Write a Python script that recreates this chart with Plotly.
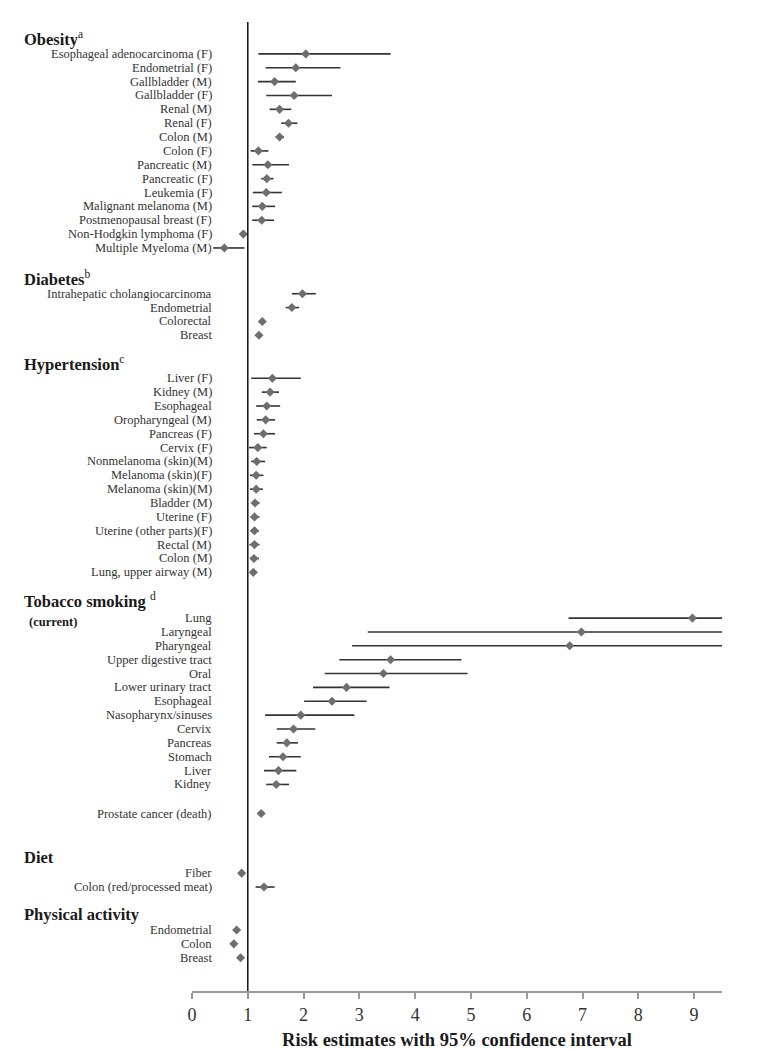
import plotly.graph_objects as go

# ---- Data: risk estimates with lower / upper 95% CI ----
obesity_labels = ["Esophageal adenocarcinoma (F)", "Endometrial (F)", "Gallbladder (M)",
                  "Gallbladder (F)", "Renal (M)", "Renal (F)", "Colon (M)", "Colon (F)",
                  "Pancreatic (M)", "Pancreatic (F)", "Leukemia (F)", "Malignant melanoma (M)",
                  "Postmenopausal breast (F)", "Non-Hodgkin lymphoma (F)", "Multiple Myeloma (M)"]
obesity_est = [2.04, 1.86, 1.48, 1.83, 1.57, 1.73, 1.57, 1.19, 1.36, 1.34, 1.33, 1.26, 1.25, 0.92, 0.58]
obesity_lo = [1.19, 1.32, 1.18, 1.33, 1.39, 1.60, 1.50, 1.05, 1.08, 1.24, 1.09, 1.08, 1.08, 0.92, 0.38]
obesity_hi = [3.56, 2.66, 1.86, 2.51, 1.78, 1.89, 1.65, 1.37, 1.74, 1.46, 1.61, 1.49, 1.47, 0.92, 0.94]

diabetes_labels = ["Intrahepatic cholangiocarcinoma", "Endometrial", "Colorectal", "Breast"]
diabetes_est = [1.98, 1.79, 1.26, 1.20]
diabetes_lo = [1.79, 1.68, 1.26, 1.20]
diabetes_hi = [2.22, 1.92, 1.26, 1.20]

hyper_labels = ["Liver (F)", "Kidney (M)", "Esophageal", "Oropharyngeal (M)", "Pancreas (F)",
                "Cervix (F)", "Nonmelanoma (skin)(M)", "Melanoma (skin)(F)", "Melanoma (skin)(M)",
                "Bladder (M)", "Uterine (F)", "Uterine (other parts)(F)", "Rectal (M)", "Colon (M)",
                "Lung, upper airway (M)"]
hyper_est = [1.44, 1.40, 1.34, 1.32, 1.28, 1.18, 1.16, 1.15, 1.15, 1.13, 1.12, 1.12, 1.12, 1.11, 1.10]
hyper_lo = [1.06, 1.25, 1.15, 1.16, 1.11, 1.02, 1.06, 1.04, 1.04, 1.07, 1.05, 1.05, 1.03, 1.05, 1.10]
hyper_hi = [1.95, 1.56, 1.58, 1.49, 1.49, 1.34, 1.31, 1.28, 1.27, 1.21, 1.21, 1.20, 1.21, 1.20, 1.10]

tobacco_labels = ["Lung", "Laryngeal", "Pharyngeal", "Upper digestive tract", "Oral",
                  "Lower urinary tract", "Esophageal", "Nasopharynx/sinuses", "Cervix",
                  "Pancreas", "Stomach", "Liver", "Kidney"]
tobacco_est = [8.97, 6.98, 6.77, 3.56, 3.43, 2.77, 2.51, 1.95, 1.82, 1.70, 1.63, 1.55, 1.51]
tobacco_lo = [6.75, 3.15, 2.87, 2.64, 2.38, 2.17, 2.01, 1.31, 1.52, 1.52, 1.38, 1.29, 1.33]
tobacco_hi = [9.50, 9.50, 9.50, 4.83, 4.94, 3.54, 3.13, 2.91, 2.21, 1.90, 1.95, 1.87, 1.74]

prostate_labels = ["Prostate cancer (death)"]
prostate_est = [1.24]
prostate_lo = [1.24]
prostate_hi = [1.24]

diet_labels = ["Fiber", "Colon (red/processed meat)"]
diet_est = [0.89, 1.29]
diet_lo = [0.89, 1.14]
diet_hi = [0.89, 1.48]

activity_labels = ["Endometrial", "Colon", "Breast"]
activity_est = [0.80, 0.75, 0.87]
activity_lo = [0.80, 0.75, 0.87]
activity_hi = [0.80, 0.75, 0.87]

x_ticks = [0, 1, 2, 3, 4, 5, 6, 7, 8, 9]

# section header, rows, and the vertical gap (in rows) before the section
sections = [
    ("<b>Obesity</b><sup>a</sup>", obesity_labels, obesity_est, obesity_lo, obesity_hi, 1.0),
    ("<b>Diabetes</b><sup>b</sup>", diabetes_labels, diabetes_est, diabetes_lo, diabetes_hi, 3.3),
    ("<b>Hypertension</b><sup>c</sup>", hyper_labels, hyper_est, hyper_lo, hyper_hi, 3.1),
    ("<b>Tobacco smoking</b> <sup>d</sup>", tobacco_labels, tobacco_est, tobacco_lo, tobacco_hi, 3.3),
    (None, prostate_labels, prostate_est, prostate_lo, prostate_hi, 2.1),
    ("<b>Diet</b>", diet_labels, diet_est, diet_lo, diet_hi, 4.3),
    ("<b>Physical activity</b>", activity_labels, activity_est, activity_lo, activity_hi, 3.1),
]

SERIF = "Liberation Serif, DejaVu Serif, serif"

ys, xs, plus, minus = [], [], [], []
annotations = []
pos = 0.0
for header, labels, est, lo, hi, gap in sections:
    pos += gap
    is_tobacco = header is not None and "Tobacco" in header
    if header:
        annotations.append(dict(
            text=header, x=-0.3208, xref="paper", xanchor="left",
            y=pos - (1.25 if is_tobacco else 1.1), yref="y", yanchor="middle",
            showarrow=False, font=dict(family=SERIF, size=16.5, color="#1a1a1a")))
    for i, lab in enumerate(labels):
        y = pos + i
        ys.append(y)
        xs.append(est[i])
        plus.append(hi[i] - est[i])
        minus.append(est[i] - lo[i])
        annotations.append(dict(
            text=lab, x=0.0415, xref="paper", xanchor="right",
            y=y, yref="y", yanchor="middle", showarrow=False,
            font=dict(family=SERIF, size=12.5, color="#333333")))
        if is_tobacco and i == 0:
            annotations.append(dict(
                text="<b>(current)</b>", x=-0.312, xref="paper", xanchor="left",
                y=y + 0.25, yref="y", yanchor="middle", showarrow=False,
                font=dict(family=SERIF, size=12.5, color="#1a1a1a")))
    pos += len(labels) - 1

fig = go.Figure()
fig.add_trace(go.Scatter(
    x=xs, y=ys, mode="markers",
    marker=dict(symbol="diamond", size=7, color="#6e6e6e"),
    error_x=dict(type="data", symmetric=False, array=plus, arrayminus=minus,
                 width=0, thickness=1.6, color="#333333"),
    showlegend=False,
))

# reference line at risk = 1
fig.add_shape(type="line", xref="x", yref="paper", x0=1, x1=1, y0=0, y1=1,
              line=dict(color="#111111", width=1.5))

# the page body adds an 8px offset top/left
fig.update_layout(
    width=752, height=1042,
    margin=dict(l=184, r=38, t=14, b=59, autoexpand=False),
    plot_bgcolor="white", paper_bgcolor="white",
    annotations=annotations,
    showlegend=False,
)
fig.update_xaxes(
    range=[0, 9.5], tickvals=x_ticks, ticks="outside", ticklen=6, tickwidth=1.5,
    tickcolor="#999999", showline=True, linecolor="#999999", linewidth=2,
    showgrid=False, zeroline=False, automargin=False,
    tickfont=dict(family=SERIF, size=18, color="#333333"),
    title=dict(text="<b>Risk estimates with 95% confidence interval</b>", standoff=9,
               font=dict(family=SERIF, size=18.5, color="#1a1a1a")),
)
fig.update_yaxes(range=[68.6, -1.3], visible=False, showgrid=False, zeroline=False)

fig.write_html("out.html")
